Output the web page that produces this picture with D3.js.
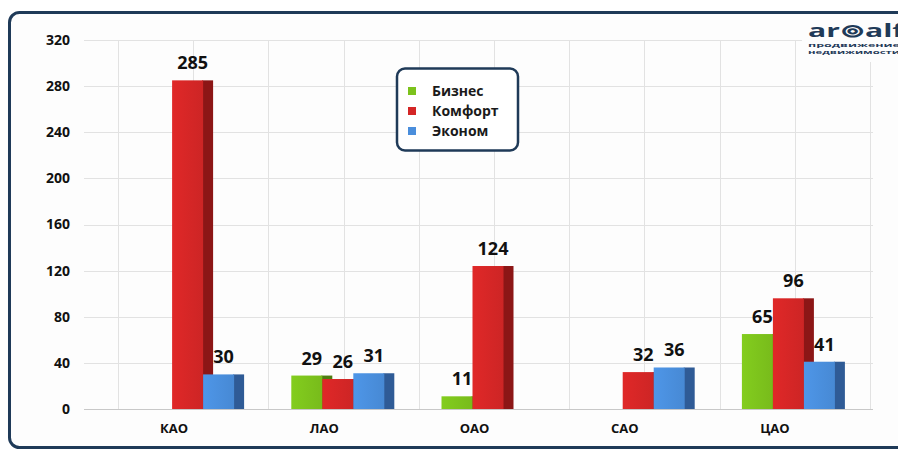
<!DOCTYPE html>
<html><head><meta charset="utf-8">
<script src="https://cdn.jsdelivr.net/npm/d3@7"></script>
<style>
html,body{margin:0;padding:0;background:#fff;}
svg{display:block;}
text{font-family:"Open Sans",sans-serif;font-weight:700;}
</style></head>
<body>
<svg id="chart" width="898" height="450"></svg>
<script>
const categories = ["КАО", "ЛАО", "ОАО", "САО", "ЦАО"];
const seriesNames = ["Бизнес", "Комфорт", "Эконом"];
const business = [0, 29, 11, 0, 65];
const comfort  = [285, 26, 124, 32, 96];
const economy  = [30, 31, 0, 36, 41];
const yTicks = [0, 40, 80, 120, 160, 200, 240, 280, 320];

const seriesValues = [business, comfort, economy];
const faceColors = ["#7cc21c", "#d42626", "#4a8edc"];
const sideColors = ["#4d7d10", "#8c1616", "#2f5b96"];

const svg = d3.select("#chart");

// outer frame
svg.append("rect").attr("x", 9.5).attr("y", 12.5).attr("width", 910).attr("height", 435)
  .attr("rx", 10).attr("fill", "#fdfdfd").attr("stroke", "#1f3a58").attr("stroke-width", 3);

const y = d3.scaleLinear().domain([0, 320]).range([409, 40]);
const x0 = d3.scaleBand().domain(categories).range([97, 848]).padding(0);
const x1 = d3.scaleBand().domain(seriesNames).range([-31, 62]).padding(0);
const sideW = 10;

// gridlines
const grid = svg.append("g");
const gxLeft = 84, gxRight = 873;
grid.selectAll("line.h").data(yTicks).join("line")
  .attr("x1", gxLeft).attr("x2", gxRight)
  .attr("y1", d => Math.round(y(d)) + 0.5).attr("y2", d => Math.round(y(d)) + 0.5)
  .attr("stroke", d => d === 0 ? "#c8c8c8" : "#e2e2e2").attr("stroke-width", 1);
const vLines = d3.range(11).map(k => 118 + k * 75.2);
grid.selectAll("line.v").data(vLines).join("line")
  .attr("x1", d => Math.round(d) + 0.5).attr("x2", d => Math.round(d) + 0.5)
  .attr("y1", y(320)).attr("y2", y(0))
  .attr("stroke", "#e2e2e2").attr("stroke-width", 1);

// y axis
const yAxis = d3.axisLeft(y).tickValues(yTicks).tickSize(0).tickPadding(0);
const ya = svg.append("g").attr("transform", "translate(70,0)").call(yAxis);
ya.select(".domain").remove();
ya.selectAll("text").attr("font-size", 14).attr("fill", "#111")
  .style("font-family", "'Open Sans',sans-serif").style("font-weight", 700);

// x axis
const xAxis = d3.axisBottom(x0).tickSize(0).tickPadding(0);
const xa = svg.append("g").attr("transform", "translate(2,424)").call(xAxis);
xa.select(".domain").remove();
xa.selectAll("text").attr("font-size", 13).attr("fill", "#111")
  .style("font-family", "'Open Sans',sans-serif").style("font-weight", 700);

// gradients
const defs = svg.append("defs");
faceColors.forEach((c, i) => {
  const g = defs.append("linearGradient").attr("id", "g" + i).attr("x1", 0).attr("x2", 1).attr("y1", 0).attr("y2", 0);
  g.append("stop").attr("offset", "0%").attr("stop-color", d3.color(c).brighter(0.15));
  g.append("stop").attr("offset", "100%").attr("stop-color", d3.color(c).darker(0.1));
});

// bars
const bars = svg.append("g");
categories.forEach((cat, ci) => {
  const cx = x0(cat) + x0.bandwidth() / 2;
  seriesNames.forEach((s, si) => {
    const v = seriesValues[si][ci];
    if (!v) return;
    const xs = cx + x1(s);
    const w = x1.bandwidth();
    bars.append("rect").attr("x", xs + w - 1).attr("y", y(v)).attr("width", sideW + 1).attr("height", y(0) - y(v))
      .attr("fill", sideColors[si]);
    bars.append("rect").attr("x", xs).attr("y", y(v)).attr("width", w).attr("height", y(0) - y(v))
      .attr("fill", "url(#g" + si + ")");
  });
});

// value labels
const labels = svg.append("g");
categories.forEach((cat, ci) => {
  const cx = x0(cat) + x0.bandwidth() / 2;
  seriesNames.forEach((s, si) => {
    const v = seriesValues[si][ci];
    if (!v) return;
    labels.append("text").attr("x", cx + x1(s) + x1.bandwidth() / 2 + 5).attr("y", y(v) - 11)
      .attr("text-anchor", "middle").attr("font-size", 18).attr("fill", "#111").text(v);
  });
});

// legend
const lg = svg.append("g");
lg.append("rect").attr("x", 397).attr("y", 68.5).attr("width", 121).attr("height", 82).attr("rx", 8)
  .attr("fill", "#fff").attr("stroke", "#1f3a58").attr("stroke-width", 2.5);
seriesNames.forEach((s, i) => {
  const cy = 91 + i * 20;
  lg.append("rect").attr("x", 408).attr("y", cy - 4).attr("width", 8).attr("height", 8).attr("fill", faceColors[i]);
  lg.append("text").attr("x", 432).attr("y", cy).attr("dy", "0.35em").attr("font-size", 14)
    .attr("fill", "#1a1a1a").text(s);
});

// logo
const logo = svg.append("g");
logo.append("rect").attr("x", 802).attr("y", 20).attr("width", 96).attr("height", 42).attr("fill", "#fdfdfd");
logo.append("text").attr("x", 808).attr("y", 37).attr("font-size", 18).attr("fill", "#1f3a58")
  .attr("textLength", 96).attr("lengthAdjust", "spacingAndGlyphs").text("ar⊚alf");
logo.append("text").attr("x", 808).attr("y", 47).attr("font-size", 5.5).attr("fill", "#1f3a58")
  .attr("textLength", 92).attr("lengthAdjust", "spacingAndGlyphs").text("продвижение");
logo.append("text").attr("x", 808).attr("y", 53.5).attr("font-size", 5.5).attr("fill", "#1f3a58")
  .attr("textLength", 92).attr("lengthAdjust", "spacingAndGlyphs").text("недвижимости");
</script>
</body></html>
